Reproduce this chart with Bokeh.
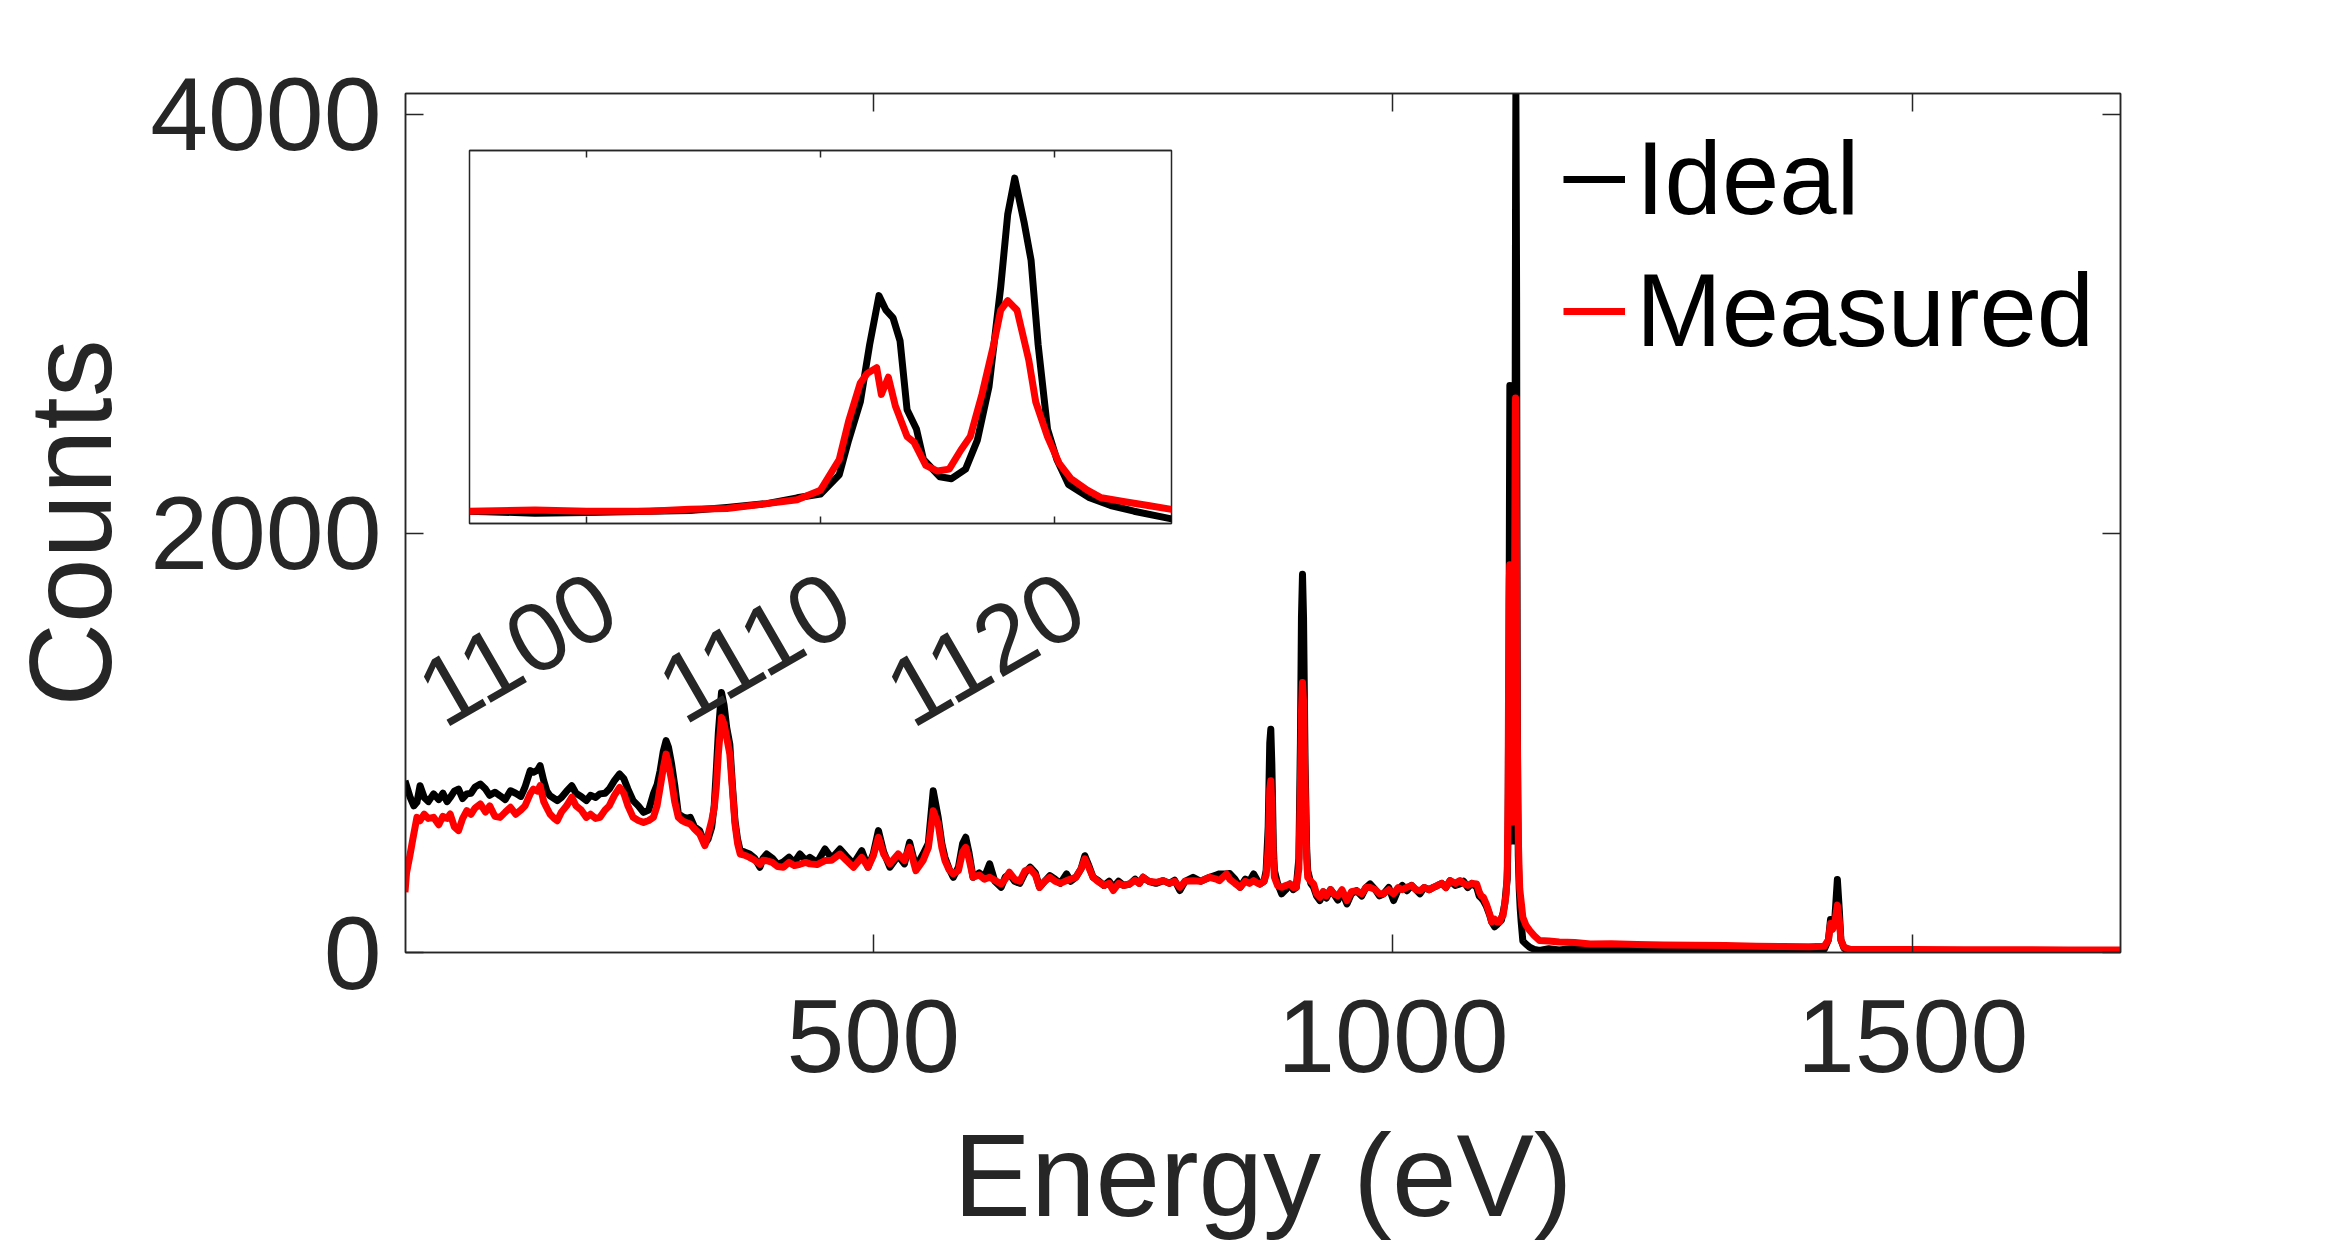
import math
from bokeh.plotting import figure
from bokeh.models import FixedTicker, LinearAxis, Range1d, Legend, LegendItem
from bokeh.embed import file_html
from bokeh.resources import INLINE

# ---------------- data ----------------
ideal_ev = [49.5, 52, 54.5, 58, 61, 64, 68, 72, 77, 82, 86, 90, 93, 97, 101, 105, 109, 113, 117, 122,
            127, 131, 136, 141, 146, 151, 156, 161, 165, 170, 173, 177, 179.5, 183, 186, 189, 193, 196, 200, 205,
            210, 214, 219, 224, 228, 233, 237, 242, 246, 251, 256, 260, 264, 269, 274, 279, 284, 288.5, 292, 295,
            298, 300.7, 303, 306, 309, 312.5, 316, 320, 324, 328, 333, 338, 341, 344.6, 347, 349, 351, 354, 356.5, 359,
            362, 364.5, 367, 369.5, 372, 376, 381, 386, 391, 394, 397.5, 403, 408, 413.5, 419, 424, 429.5, 435, 439, 446,
            453.6, 460, 468, 474, 481, 489, 495, 500, 505, 510, 516, 524, 530, 535, 541, 548, 553, 557.7, 562.5, 566,
            569, 573, 577, 582, 586, 589, 592, 596, 602, 607, 612, 617, 623, 627, 631, 636, 641, 646, 651, 656,
            660, 665, 670, 675, 680, 686, 690, 695, 700, 703.6, 707, 711.5, 716, 722, 727, 731, 736, 741, 746.8, 752,
            756, 759.6, 765, 772, 779, 785, 790, 795, 800, 807.7, 815, 823.7, 830, 833, 839.8, 843, 848, 853, 858, 862,
            866, 870, 872, 876, 878, 880, 881.5, 882.5, 883.5, 885, 886, 889, 893, 897, 901, 904, 907, 909.5, 911, 912,
            913, 914, 915.5, 917, 918, 921, 923.7, 926.5, 929.8, 933, 936, 940, 943, 947, 951, 955.8, 960, 965, 970, 974,
            978, 983, 987, 991, 996, 1000.7, 1005, 1009, 1013.5, 1018, 1022, 1026, 1030, 1035, 1039, 1043, 1047, 1051, 1055, 1060,
            1064.5, 1068, 1072, 1076, 1080.6, 1083, 1085, 1087, 1090, 1093, 1095, 1097.8, 1100, 1102.7, 1104.4, 1106, 1107.7, 1109, 1110, 1110.8,
            1111.2, 1111.7, 1112.1, 1112.5, 1112.8, 1113.1, 1113.4, 1113.7, 1114.1, 1114.4, 1115.1, 1115.6, 1116.2, 1116.7, 1117.2, 1117.7, 1118, 1118.3, 1118.7, 1119,
            1119.3, 1119.7, 1120.1, 1120.6, 1121.5, 1122.4, 1123.4, 1125, 1128, 1131.6, 1136, 1141, 1150, 1160, 1175, 1190, 1210, 1230, 1250, 1280,
            1310, 1340, 1370, 1400, 1415, 1419, 1421, 1423, 1425, 1427.6, 1429.5, 1431, 1434, 1440, 1470, 1500, 1550, 1600, 1650, 1700]
ideal_counts = [820, 780, 740, 700, 717, 796, 740, 720, 757, 730, 760, 720, 740, 770, 780, 735, 757, 760, 790, 804,
                780, 750, 765, 748, 730, 772, 760, 745, 790, 868, 860, 870, 892, 820, 770, 748, 735, 725, 740, 770,
                796, 760, 745, 725, 750, 740, 757, 760, 780, 820, 852, 830, 780, 725, 700, 669, 680, 757, 800, 868,
                960, 1011, 980, 900, 800, 661, 650, 640, 645, 600, 582, 518, 540, 598, 700, 868, 1050, 1241, 1180, 1074,
                995, 800, 629, 540, 486, 480, 470, 450, 407, 450, 470, 450, 420, 432, 455, 430, 470, 440, 454, 430,
                494, 450, 494, 460, 423, 486, 407, 470, 582, 480, 407, 462, 423, 526, 407, 470, 520, 772, 645, 520,
                454, 400, 359, 407, 520, 550, 480, 359, 380, 360, 423, 340, 311, 360, 375, 340, 330, 380, 407, 380,
                311, 340, 367, 350, 330, 375, 340, 359, 400, 462, 420, 359, 345, 320, 340, 311, 340, 320, 327, 350,
                330, 359, 340, 330, 343, 330, 345, 296, 340, 359, 340, 359, 370, 375, 375, 377, 350, 311, 350, 340,
                375, 340, 327, 340, 391, 600, 1000, 1066, 900, 500, 391, 330, 280, 300, 327, 300, 311, 450, 1000, 1600,
                1805, 1600, 900, 500, 391, 330, 311, 270, 248, 290, 260, 300, 280, 250, 290, 232, 280, 295, 270, 310,
                327, 300, 270, 280, 310, 248, 300, 320, 295, 320, 300, 280, 310, 300, 311, 320, 330, 310, 343, 320,
                327, 340, 310, 330, 311, 270, 260, 248, 220, 180, 146, 123, 132, 146, 155, 191, 236, 305, 350, 578,
                987, 1442, 2124, 2706, 2533, 2442, 2169, 1351, 1123, 760, 555, 532, 646, 987, 1624, 2806, 3670, 4102, 3579, 3124,
                2124, 1123, 760, 464, 305, 214, 146, 55, 40, 25, 15, 10, 18, 12, 20, 15, 12, 18, 10, 14,
                10, 12, 10, 12, 15, 60, 157, 120, 150, 348, 200, 60, 20, 10, 8, 8, 7, 7, 6, 6]

measured_ev = [49.5, 51, 54.5, 57, 61, 64, 68, 72, 77, 82, 86, 90, 93, 97, 101, 105, 109, 113, 117, 122,
               127, 131, 136, 141, 146, 151, 156, 161, 165, 170, 173, 177, 179.5, 183, 186, 189, 193, 196, 200, 205,
               210, 214, 219, 224, 228, 233, 237, 242, 246, 251, 256, 260, 264, 269, 274, 279, 284, 288.5, 292, 295,
               298, 300.7, 303, 306, 309, 312.5, 316, 320, 324, 328, 333, 338, 341, 344.6, 347, 349, 351, 354, 356.5, 359,
               362, 364.5, 367, 369.5, 372, 376, 381, 386, 391, 394, 397.5, 403, 408, 413.5, 419, 424, 429.5, 435, 439, 446,
               453.6, 460, 468, 474, 481, 489, 495, 500, 505, 510, 516, 524, 530, 535, 541, 548, 553, 557.7, 562.5, 566,
               569, 573, 577, 582, 586, 589, 592, 596, 602, 607, 612, 617, 623, 627, 631, 636, 641, 646, 651, 656,
               660, 665, 670, 675, 680, 686, 690, 695, 700, 703.6, 707, 711.5, 716, 722, 727, 731, 736, 741, 746.8, 752,
               756, 759.6, 765, 772, 779, 785, 790, 795, 800, 807.7, 815, 823.7, 830, 833, 839.8, 843, 848, 853, 858, 862,
               866, 870, 872, 876, 878, 880, 881.5, 882.5, 883.5, 885, 886, 889, 893, 897, 901, 904, 907, 909.5, 911, 912,
               913, 914, 915.5, 917, 918, 921, 923.7, 926.5, 929.8, 933, 936, 940, 943, 947, 951, 955.8, 960, 965, 970, 974,
               978, 983, 987, 991, 996, 1000.7, 1005, 1009, 1013.5, 1018, 1022, 1026, 1030, 1035, 1039, 1043, 1047, 1051, 1055, 1060,
               1064.5, 1068, 1072, 1076, 1080.6, 1083, 1085, 1087, 1090, 1093, 1095, 1097.8, 1100, 1102.7, 1104.4, 1106, 1107.7, 1109, 1110, 1110.8,
               1111.2, 1111.7, 1112.0, 1112.4, 1112.6, 1112.9, 1113.2, 1113.7, 1114.0, 1114.5, 1115.0, 1115.5, 1116.0, 1116.4, 1116.9, 1117.4, 1117.7, 1118.0, 1118.4, 1118.9,
               1119.2, 1119.7, 1120.2, 1120.7, 1121.4, 1122.0, 1123.0, 1124.0, 1125, 1128, 1131.6, 1136, 1141, 1150, 1160, 1175, 1190, 1210, 1235, 1260,
               1290, 1320, 1350, 1376, 1400, 1415, 1419, 1421, 1423, 1425, 1427.6, 1429.5, 1431, 1434, 1440, 1470, 1500, 1550, 1600, 1650, 1700]
measured_counts = [288, 380, 470, 540, 645, 629, 660, 640, 645, 610, 650, 640, 661, 600, 582, 640, 677, 660, 690, 709,
                   670, 700, 650, 645, 670, 693, 660, 680, 700, 757, 780, 770, 796, 720, 690, 661, 640, 629, 670, 700,
                   741, 700, 680, 645, 660, 640, 645, 680, 700, 750, 788, 760, 700, 645, 630, 621, 630, 645, 700, 788,
                   880, 947, 900, 820, 720, 645, 630, 620, 613, 590, 566, 510, 560, 629, 690, 788, 950, 1122, 1090, 1027,
                   947, 780, 613, 520, 470, 465, 454, 440, 421, 440, 438, 430, 410, 407, 430, 415, 421, 430, 423, 420,
                   439, 440, 470, 440, 407, 454, 407, 460, 550, 470, 423, 470, 439, 502, 391, 439, 500, 677, 613, 500,
                   439, 395, 375, 391, 480, 502, 450, 359, 370, 350, 359, 345, 327, 350, 383, 350, 340, 390, 399, 370,
                   311, 340, 359, 340, 330, 343, 350, 359, 400, 447, 410, 359, 340, 320, 330, 296, 330, 320, 327, 345,
                   330, 359, 340, 335, 343, 330, 340, 311, 340, 343, 340, 359, 350, 343, 375, 350, 330, 311, 340, 330,
                   343, 330, 327, 340, 370, 500, 780, 820, 700, 450, 359, 320, 311, 320, 327, 310, 311, 400, 800, 1150,
                   1289, 1200, 800, 450, 359, 340, 327, 280, 264, 290, 270, 300, 280, 270, 300, 248, 290, 295, 280, 310,
                   311, 300, 280, 280, 300, 280, 310, 300, 311, 320, 300, 295, 310, 300, 311, 320, 330, 310, 343, 330,
                   343, 330, 320, 330, 327, 290, 270, 264, 230, 185, 146, 159, 146, 146, 168, 177, 236, 282, 396, 760,
                   1214, 1669, 1783, 1851, 1533, 1737, 1396, 1032, 964, 691, 623, 646, 873, 1032, 1533, 2124, 2533, 2647, 2533, 1942,
                   1442, 1032, 714, 532, 396, 305, 259, 214, 168, 130, 105, 80, 57, 55, 50, 48, 41, 42, 38, 36,
                   35, 33, 30, 29, 28, 30, 60, 138, 110, 140, 226, 150, 60, 25, 15, 14, 14, 13, 13, 12, 12]

x_ticks = [500, 1000, 1500]
y_ticks = [0, 2000, 4000]
inset_ticks = [1100, 1110, 1120]

FONT = "Liberation Sans"
AX = "#262626"
LW = 7


def style_axis(ax, ticks, tick_len, font_size="104px"):
    ax.ticker = FixedTicker(ticks=ticks)
    ax.minor_tick_line_color = None
    ax.major_tick_in = tick_len
    ax.major_tick_out = 0
    ax.major_tick_line_color = AX
    ax.major_tick_line_width = 1.5
    ax.axis_line_color = AX
    ax.axis_line_width = 1.5
    ax.major_label_text_font = FONT
    ax.major_label_text_font_size = font_size
    ax.major_label_text_color = AX


def blank_axis(ticks, tick_len, **kw):
    ax = LinearAxis(**kw)
    style_axis(ax, ticks, tick_len, font_size="0px")
    ax.major_label_overrides = {t: "" for t in ticks}
    ax.major_label_standoff = 0
    return ax


# ---------------- main figure ----------------
p = figure(x_range=Range1d(50, 1700), y_range=Range1d(0, 4100),
           frame_width=1715, frame_height=859,
           min_border_left=405, min_border_right=224, min_border_top=93, min_border_bottom=296,
           output_backend="svg", toolbar_location=None)
p.background_fill_color = "white"
p.border_fill_color = "white"
p.grid.visible = False
p.outline_line_color = AX
p.outline_line_width = 1.5

r1 = p.line(ideal_ev, ideal_counts, line_color="black", line_width=LW, line_join="round")
r2 = p.line(measured_ev, measured_counts, line_color="#ff0000", line_width=LW, line_join="round")

style_axis(p.xaxis[0], x_ticks, 18)
style_axis(p.yaxis[0], y_ticks, 18)
p.xaxis.major_label_standoff = 47
p.yaxis.major_label_standoff = 24
p.xaxis.axis_label = "Energy (eV)"
p.yaxis.axis_label = "Counts"
for ax in (p.xaxis[0], p.yaxis[0]):
    ax.axis_label_text_font = FONT
    ax.axis_label_text_font_size = "116px"
    ax.axis_label_text_font_style = "normal"
    ax.axis_label_text_color = AX
p.xaxis.axis_label_standoff = 36
p.yaxis.axis_label_standoff = 11

p.add_layout(blank_axis(x_ticks, 18), "above")
p.add_layout(blank_axis(y_ticks, 18), "right")

legend = Legend(items=[LegendItem(label="Ideal", renderers=[r1]),
                       LegendItem(label="Measured", renderers=[r2])],
                location=(1158, 582), label_text_font=FONT, label_text_font_size="103px",
                label_text_color="black", glyph_width=62, glyph_height=40, label_standoff=11,
                spacing=14, padding=0, margin=0, border_line_color=None, background_fill_alpha=0)
p.add_layout(legend)

# ---------------- inset figure ----------------
ins = figure(x_range=Range1d(1095, 1125), y_range=Range1d(0, 4430),
             frame_width=702, frame_height=373,
             min_border_left=120, min_border_right=10, min_border_top=10, min_border_bottom=260,
             x_axis_location=None, y_axis_location=None,
             output_backend="svg", toolbar_location=None)
ins.background_fill_color = "white"
ins.border_fill_alpha = 0
ins.grid.visible = False
ins.outline_line_color = AX
ins.outline_line_width = 1.5
ins.line(ideal_ev, ideal_counts, line_color="black", line_width=LW, line_join="round")
ins.line(measured_ev, measured_counts, line_color="#ff0000", line_width=LW, line_join="round")

ins.add_layout(blank_axis(inset_ticks, 7), "below")
ins.add_layout(blank_axis(inset_ticks, 7), "above")
ins.extra_x_ranges = {"lab": Range1d(1095 - 0.9, 1125 - 0.9)}
lab_ax = LinearAxis(x_range_name="lab")
style_axis(lab_ax, inset_ticks, 0, font_size="97px")
lab_ax.major_tick_line_color = None
lab_ax.axis_line_color = None
lab_ax.major_label_orientation = math.pi / 6
lab_ax.major_label_standoff = 73
ins.add_layout(lab_ax, "below")
ins.styles = {"position": "absolute", "left": "349px", "top": "140px"}

open("out.html", "w").write(file_html([p, ins], INLINE))
